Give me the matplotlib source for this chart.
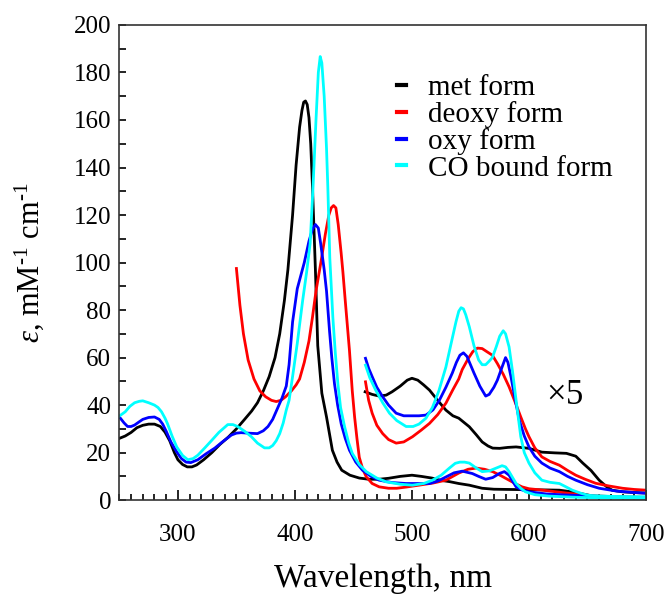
import numpy as np
import matplotlib
matplotlib.use('Agg')
import matplotlib.pyplot as plt

plt.rcParams['font.family'] = ['Liberation Serif', 'DejaVu Serif']
plt.rcParams['mathtext.fontset'] = 'custom'
plt.rcParams['mathtext.rm'] = 'Liberation Serif'
plt.rcParams['mathtext.it'] = 'Liberation Serif:italic'

# met form, full scale
met_x = [250, 255, 260, 265, 270, 275, 280, 285, 289, 293, 297, 300, 304, 308, 312, 316,
         322, 329, 336, 343, 350, 357, 363, 368, 373, 378, 383, 387, 391, 394, 398, 401,
         404, 406, 407.5, 409, 410.5, 412, 413.5, 415, 417.5, 419.5, 423, 427, 432, 436, 440, 447,
         455, 463, 472, 480, 490, 500, 508, 517, 525, 532, 540, 549, 560, 570, 583, 600,
         615, 626, 635, 643, 652, 660, 670, 685, 700]
met_y = [26, 27, 28.5, 30.5, 31.5, 32, 32, 31, 28.6, 25, 20, 17, 15, 14, 14, 14.8,
         17, 20, 23.5, 26.5, 30, 34, 37.5, 41, 46, 52, 60, 70, 84, 97, 120, 141,
         157, 164, 167.5, 168, 166.5, 161, 150, 132, 97, 65, 45, 35, 21, 16, 12.6, 10.5,
         9.3, 8.8, 8.8, 9.2, 10, 10.5, 10, 9.3, 8.3, 7.8, 7, 6.3, 5, 4.6, 4.5, 4.4,
         4.3, 4.2, 3.6, 2.9, 2, 1.3, 1, 0.8, 0.7]

# met form, x5 in the visible region
met5_x = [460, 466, 472, 478, 483, 490, 496, 500, 505, 510, 515, 522, 529, 535, 540, 549,
          555, 560, 565, 569, 575, 582, 589, 600, 611, 622, 632, 640, 646, 653, 660,
          666, 671, 680, 690, 700]
met5_y = [45.6, 44.5, 43.8, 44.2, 45.6, 48, 50.5, 51.3, 50.5, 48.5, 46.3, 42, 37.9, 35.5, 34.5, 30.9,
          27.5, 24.5, 22.8, 21.9, 21.8, 22.2, 22.4, 21.8, 20.2, 19.9, 19.7, 18.5, 15.6, 12.5, 8.4,
          5.8, 4.2, 3.5, 3.2, 3]

# deoxy form, full scale
deoxy_x = [350, 353, 356, 360, 365, 370, 375, 380, 384, 388, 392, 397, 401, 404, 408, 412,
           415, 418, 422.5, 426, 429, 431, 433, 435, 437, 439.5, 441, 443, 446.6, 449, 451,
           453, 455, 458, 461, 466, 472, 480, 487, 495, 506, 518, 529, 540, 548, 555, 562,
           569, 576, 583, 589, 594, 600, 610, 620, 635, 650, 670, 700]
deoxy_y = [97.5, 82, 70, 59, 51, 46, 43.5, 42, 41.5, 42, 43.5, 46, 48.5, 51, 58, 67,
           77, 88, 101, 112, 120, 123, 124, 123, 116, 104, 96, 84, 63, 46, 35,
           26, 18, 13, 9.8, 7, 5.6, 5, 5, 5.5, 6.3, 7.2, 8.4, 11.4, 13, 13.5, 13,
           12, 10.3, 8.4, 6.8, 5.6, 4.8, 4.3, 3.7, 2.8, 2, 1.5, 1.2]

deoxy5_x = [460.3, 463, 466, 470, 475, 480, 486.5, 493, 500.5, 508, 515, 522, 529, 535, 540,
            543, 548, 552, 556, 560, 564, 568.7, 573, 578, 583, 588, 593, 597, 600, 605, 611,
            618, 626, 633, 640, 648, 657, 668, 680, 690, 700]
deoxy5_y = [49.8, 42, 36.6, 31.5, 28, 25.5, 24, 24.5, 26.7, 29.5, 32.3, 36, 40.8, 46.5, 51,
            55, 59.5, 62.5, 64, 63.8, 62.5, 61, 57.5, 53, 47.7, 41.5, 35, 30, 26.7, 22, 18.2,
            16.3, 14.7, 12.5, 10.5, 8.8, 7.1, 6, 5, 4.5, 4.2]

# oxy form, full scale
oxy_x = [250, 254, 257, 260, 263, 267, 270, 275, 280, 284, 287, 290, 294, 299, 303, 307,
         311, 317, 324, 331.5, 338, 345.7, 350, 354, 360, 368, 373, 377, 381, 385, 389,
         392.6, 395, 398, 402, 408, 412, 415, 417.5, 420, 422, 425, 427, 429.6, 431.5,
         433.8, 436.5, 439.6, 443, 446.6, 452, 457.7, 465, 472, 483, 495, 505, 515, 522,
         530, 536, 543, 551.6, 557, 563, 569, 575, 579, 583, 586, 589, 594, 600, 615, 630,
         650, 675, 700]
oxy_y = [35, 32.5, 31, 31, 31.6, 33, 34, 34.8, 35, 34, 32, 29, 24.5, 20.3, 17.5, 16,
         15.8, 17, 19.5, 21.9, 24.5, 27.4, 28.2, 28.4, 28.2, 28, 29.2, 31, 34, 38.5, 43,
         48, 57, 75, 89, 100, 109, 114, 116, 114.5, 108, 97, 88, 71, 60,
         49, 40, 32, 26, 21, 16, 12.6, 10, 8.4, 7.4, 7, 7, 7, 8,
         10, 11.5, 12.2, 11.2, 10, 8.8, 9.5, 11.3, 12, 10.5, 8, 5.6, 4.3, 3.5, 2.6, 2.2,
         1.8, 1.3, 1]

oxy5_x = [460.3, 463, 466, 470, 475, 480, 486.5, 493, 500.5, 506, 512, 518, 523.4, 529, 534.5,
          538, 541, 544, 547, 550, 553, 558, 563, 566, 570, 573, 577, 580, 582, 584.6, 588,
          591.7, 596, 600, 605, 611, 618, 626, 633, 640, 650, 660, 675, 690, 700]
oxy5_y = [59.7, 55.5, 52, 47.5, 43.5, 40, 36.6, 35.5, 35.5, 35.5, 35.8, 38, 42, 47.5, 53.5,
          58, 61, 62, 60.5, 57, 53.5, 48, 43.8, 44.5, 47.5, 50.5, 56, 60, 58, 52, 43,
          33.7, 27, 22.4, 18.5, 15.6, 13.5, 12, 10, 8.4, 6.5, 5, 3.8, 3.2, 2.9]

# CO bound form, full scale
co_x = [250, 255, 259, 263, 267, 270, 275, 280, 283, 286, 289, 291, 295, 299, 304, 308.5,
        313, 317, 323, 328.6, 335, 342.6, 347, 351, 357, 362.8, 368, 374, 378, 381, 384,
        387, 390, 392.6, 395, 398, 402, 406.6, 410, 413, 415.3, 418, 420, 421.6, 423, 425,
        427, 428.1, 429.8, 432.4, 434.5, 436.7, 439, 442.4, 446, 449, 455, 461, 470, 478,
        490, 500.4, 510, 517.5, 525, 532, 537, 541, 545, 549, 555, 560, 566, 572, 577,
        580, 583, 586, 589, 593, 597, 605, 617, 640, 670, 700]
co_y = [35.4, 37.2, 39.5, 41, 41.6, 41.8, 41, 40, 39, 37.2, 34.5, 32.3, 27, 22.4, 18.8, 17,
        17.5, 18.9, 22, 25, 28.5, 31.8, 31.8, 31, 29, 26.7, 24, 22, 22, 23, 25,
        28, 32.5, 37.9, 42, 52, 66, 84, 96, 108, 130, 160, 180, 186.7, 184, 170,
        148, 132, 102, 77, 62, 49, 39, 31, 24, 19.7, 15, 12, 9.3, 7.7,
        6.7, 6.3, 7, 8.4, 10.5, 13.5, 15.5, 16, 16, 15.6, 13.5, 12, 12.3, 13.5, 14.5,
        14, 12, 9.5, 7, 5, 3.5, 2.3, 1.7, 1.2, 0.9, 0.8]

co5_x = [460.3, 464, 469, 475, 480.8, 487, 495, 501, 506, 512, 517.5, 523, 529, 533.5, 537.6,
         540, 542, 544, 546, 549, 553, 557, 560, 563, 566, 568.7, 572, 575, 578, 580, 583,
         586, 589, 593, 596, 600, 605, 611, 618, 626, 632, 637, 645, 651, 670, 700]
co5_y = [56.8, 51.5, 46.3, 41, 36.6, 33.5, 31, 31, 32, 34.5, 39, 46, 56, 66, 75,
         79.5, 81, 80.5, 78, 73, 65, 59, 57, 57, 58.5, 60, 64.5, 69, 71.3, 70, 64.5,
         54, 42, 26.7, 20, 15.6, 11.5, 8.4, 7.5, 7, 5.5, 4.2, 2.8, 2, 1.6, 1.4]

labels = ['met form', 'deoxy form', 'oxy form', 'CO bound form']
colors = ['#000000', '#ff0000', '#0000ff', '#00ffff']
series = [(met_x, met_y, met5_x, met5_y),
          (deoxy_x, deoxy_y, deoxy5_x, deoxy5_y),
          (oxy_x, oxy_y, oxy5_x, oxy5_y),
          (co_x, co_y, co5_x, co5_y)]

fig = plt.figure(figsize=(6.67, 5.94), dpi=100)
ax = fig.add_axes([0.179, 0.158, 0.7895, 0.8])

for (x, y, x5, y5), c, lab in zip(series, colors, labels):
    ax.plot(x, y, color=c, lw=2.0, label=lab)
    ax.plot(x5, y5, color=c, lw=2.0)

ax.set_xlim(250, 700)
ax.set_ylim(0, 200)
ax.set_xticks([300, 400, 500, 600, 700])
ax.set_xticks(np.arange(250, 701, 10), minor=True)
ax.set_yticks(np.arange(0, 201, 20))
ax.set_yticks(np.arange(0, 201, 10), minor=True)
ax.tick_params(direction='in', labelsize=18, top=False, right=False, width=1.2)
ax.tick_params(axis='x', which='major', length=7, pad=17)
ax.tick_params(axis='x', which='minor', length=4, width=1.2, direction='in')
ax.tick_params(axis='y', which='major', length=5, pad=6)
ax.tick_params(axis='y', which='minor', length=5, width=1.2, direction='in')
for s in ax.spines.values():
    s.set_linewidth(1.2)
    s.set_color('#333333')

ax.set_xlabel('Wavelength, nm', fontsize=24, labelpad=13)
ax.set_ylabel('$\\mathit{\\varepsilon}$, mM$^{\u20101}$ cm$^{\u20101}$', fontsize=22, labelpad=20)

ax.text(631, 44, r'$\times$5', fontsize=25, ha='center', va='center')

leg = ax.legend(loc='upper left', bbox_to_anchor=(0.527, 0.895), frameon=False,
                fontsize=21, handlelength=0.3, handletextpad=0.75, labelspacing=0.0,
                borderaxespad=0, borderpad=0)
for h in leg.get_lines():
    h.set_linewidth(3)

fig.savefig('out.png', dpi=100)
